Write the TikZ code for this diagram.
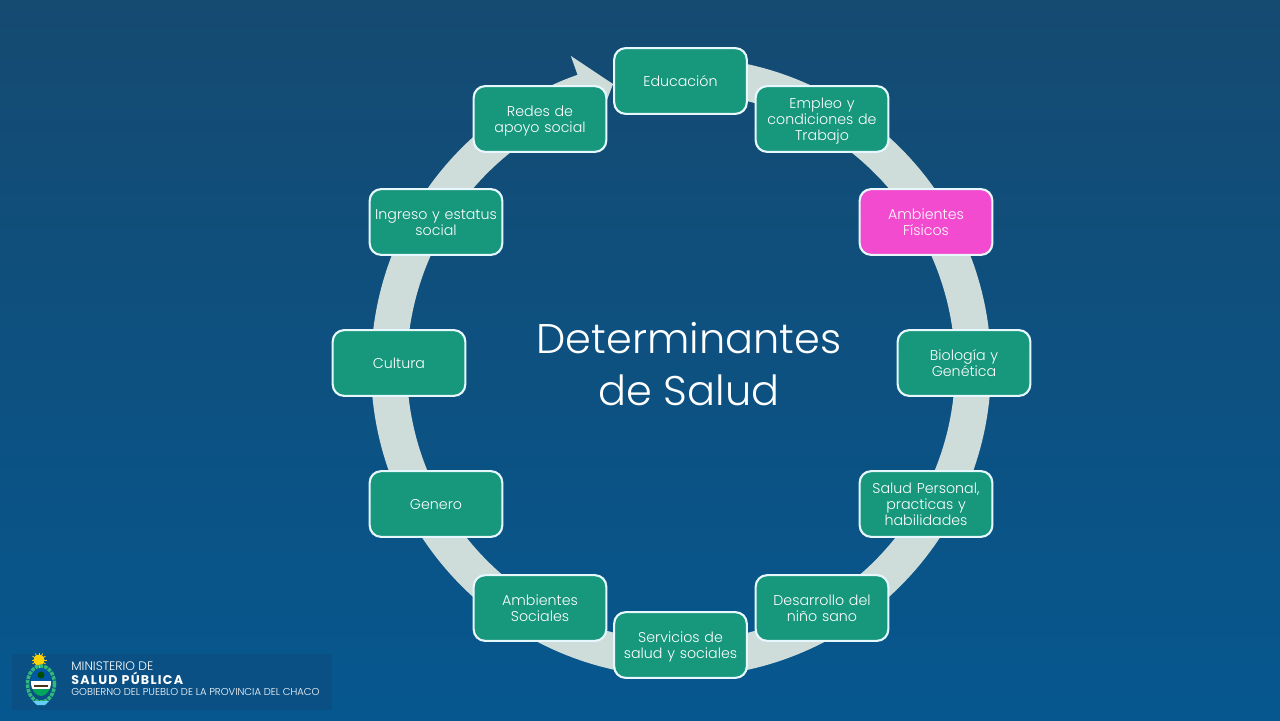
\documentclass[tikz,border=0pt]{standalone}
\usepackage{fontspec}
\setmainfont{Poppins Light}[BoldFont={Poppins Bold}]
\usetikzlibrary{calc}
\definecolor{bgtop}{HTML}{154A71}
\definecolor{bgbottom}{HTML}{06578F}
\definecolor{ringgray}{HTML}{CEDDD9}
\definecolor{boxgreen}{HTML}{17977C}
\definecolor{boxpink}{HTML}{F24BCF}
\definecolor{logoband}{HTML}{0A5084}
\tikzstyle{box} = [rectangle, rounded corners=6.5pt, minimum width=75.5pt, minimum height=37.4pt, inner sep=0pt, align=center, text width=75pt, font=\fontsize{8.1}{9.1}\selectfont, text=white, draw=white!90!cyan, line width=1.2pt, fill=boxgreen, execute at begin node=\rule{0pt}{8.6pt}, execute at end node=\strut]
\tikzstyle{logotext} = [anchor=west, inner sep=0pt, text=white]
\begin{document}
\begin{tikzpicture}[x=0.02cm, y=-0.02cm]
\useasboundingbox (0,0) rectangle (1280,720);

% Background
\shade [top color=bgtop, bottom color=bgbottom] (0,0) rectangle (1280,720);

% Ring
\coordinate (centre) at (681,367);
\fill [ringgray] ($(centre)+(-90:310)$) arc[start angle=-90, end angle=250.5, radius=310]
    -- ($(centre)+(250.5:330)$) -- ($(centre)+(256.5:291)$) -- ($(centre)+(250.5:254)$)
    -- ($(centre)+(250.5:274)$) arc[start angle=250.5, end angle=-90, radius=274] -- cycle;

% Title
\node (title) [align=center, text=white, font=\fontsize{23.6}{29.5}\selectfont] at (689,364) {Determinantes\\de Salud};

% Boxes
\node (educacion) [box] at (680.5,81) {Educación};
\node (empleo) [box] at (822,119) {Empleo y\\condiciones de\\Trabajo};
\node (fisicos) [box, fill=boxpink] at (926,222) {Ambientes\\Físicos};
\node (biologia) [box] at (964,363) {Biología y\\Genética};
\node (personal) [box] at (926,504) {Salud Personal,\\practicas y\\habilidades};
\node (desarrollo) [box] at (822,608) {Desarrollo del\\niño sano};
\node (servicios) [box] at (680.5,645) {Servicios de\\salud y sociales};
\node (sociales) [box] at (540,608) {Ambientes\\Sociales};
\node (genero) [box] at (436,504) {Genero};
\node (cultura) [box] at (399,363) {Cultura};
\node (ingreso) [box] at (436,222) {Ingreso y estatus\\social};
\node (redes) [box] at (540,119) {Redes de\\apoyo social};

% Logo
\fill [logoband] (12,654) rectangle (332,710);
\foreach \a in {0,30,...,330}
    \draw [yellow!70!orange, line width=0.5pt] (39,660) -- +(\a:7.5);
\fill [yellow!70!orange] (39,660) circle (5.5);
\draw [teal!70!green!80!white, line width=2pt, dash pattern=on 2pt off 0.6pt] (41,684) ellipse (13.5 and 18);
\begin{scope}
\clip (41,682) ellipse (10 and 14);
\fill [teal!70!blue] (30,667) rectangle (52,681);
\fill [white] (30,681) rectangle (52,689);
\fill [teal!70!green] (30,689) rectangle (52,697);
\end{scope}
\fill [green!30!black] (41,675) circle (3.5);
\fill [black!60!brown] (34,685) rectangle (48,687);
\fill [cyan!60!white] (33,701) -- (49,701) -- (45,705) -- (37,705) -- cycle;
\node (ministerio) [logotext, font=\fontsize{7}{7}\selectfont] at (71,666) {MINISTERIO DE};
\node (salud) [logotext, font=\fontsize{7.2}{8}\selectfont\bfseries\addfontfeature{LetterSpace=10}] at (71,678) {SALUD PÚBLICA};
\node (gobierno) [logotext, font=\fontsize{5.7}{6}\selectfont] at (71,692) {GOBIERNO DEL PUEBLO DE LA PROVINCIA DEL CHACO};

\end{tikzpicture}
\end{document}
